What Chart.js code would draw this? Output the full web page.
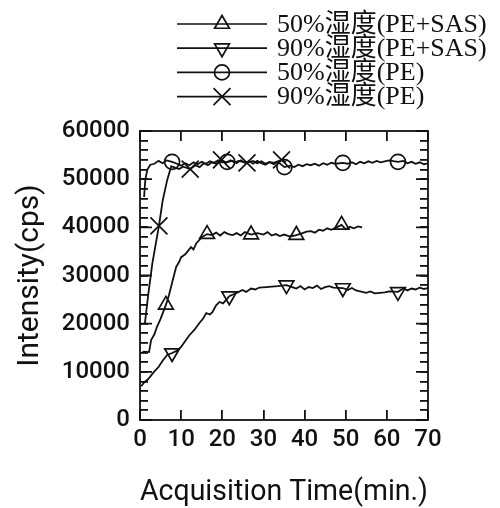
<!DOCTYPE html>
<html>
<head>
<meta charset="utf-8">
<script src="https://cdn.jsdelivr.net/npm/chart.js@4"></script>
<style>
  body { margin: 0; background: #fff; }
</style>
</head>
<body>
<canvas id="myChart" width="500" height="508"></canvas>
<script>
// 50%湿度(PE+SAS)
var tA = [0.5, 1, 2.2, 2.7, 3.5, 4.1, 5, 6.3, 7, 7.8, 8.8, 9.5, 10, 11, 12.4, 13, 13.7, 15.1, 16.3, 17.5, 18.5, 19.5, 20.5, 21.5, 22.5, 23.5, 24.5, 25.5, 27, 28.5, 30, 31, 32, 33, 34, 35, 36.5, 38, 39.5, 40.5, 41.5, 42.5, 43.5, 44.5, 45.5, 46.5, 47.5, 49, 50, 51, 52, 53, 54];
var yA = [14000, 14200, 14100, 16600, 17800, 19300, 21000, 23900, 25800, 28500, 31800, 32800, 33800, 34400, 35900, 35400, 36700, 38000, 38600, 38400, 38900, 38300, 39000, 38600, 38400, 38800, 38300, 39000, 38500, 38800, 38500, 39000, 38300, 38600, 38200, 38500, 38100, 38400, 38800, 39100, 39200, 38900, 39500, 39300, 39800, 39500, 39900, 40500, 39600, 40100, 39800, 40200, 40000];
var mA = [6.3, 16.3, 27, 38, 49];

// 90%湿度(PE+SAS)
var tB = [0.3, 1, 2, 3.4, 4.5, 5.5, 6.6, 7.8, 9, 10, 11, 12, 13.2, 14.4, 15.3, 16.1, 17, 17.6, 18.5, 19.3, 20.2, 21.7, 23, 24, 24.9, 25.8, 27, 28, 29, 30.7, 32, 33.5, 35.6, 37, 38, 39, 40, 41, 42, 43, 44, 45, 46, 47, 49.3, 50.5, 51.5, 52.5, 54, 55, 56, 57, 58.3, 59.5, 60.5, 62.7, 64, 65, 66, 67, 68, 69, 70];
var yB = [7000, 7800, 8500, 10000, 11000, 12300, 13500, 13900, 14400, 15200, 16400, 17600, 18700, 20100, 21000, 22200, 21900, 22400, 23800, 24500, 24200, 25700, 26200, 26600, 27000, 26600, 27300, 27100, 27500, 27600, 27700, 27800, 28000, 27600, 27300, 27800, 27100, 27600, 27400, 27900, 27200, 27600, 27800, 27500, 27400, 27000, 27400, 26900, 26600, 26400, 26700, 26300, 26400, 26500, 26700, 26600, 27300, 26900, 27300, 27100, 27500, 27200, 27400];
var mB = [7.8, 21.7, 35.6, 49.3, 62.7];

// 50%湿度(PE)
var tC = [1, 1.3, 1.8, 2.5, 3.5, 4.5, 5.5, 6.5, 7.8, 9, 10, 11, 12, 13, 14, 15, 16, 17, 18, 19, 20, 21.2, 22.5, 23.5, 24.5, 25.5, 26.5, 27.5, 28.5, 29.5, 30.5, 31.5, 32.5, 33.5, 35.1, 36.5, 37.5, 38.5, 39.5, 40.5, 41.5, 42.5, 43.5, 44.5, 45.5, 46.5, 47.5, 49.3, 50.5, 51.5, 52.5, 53.5, 54.5, 55.5, 56.5, 57.5, 58.5, 59.5, 60.5, 62.7, 64, 65, 66, 67, 68, 69, 70];
var yC = [46300, 50000, 52000, 53000, 53200, 53800, 53300, 53900, 53600, 53200, 52800, 53300, 52900, 53500, 53100, 53600, 53200, 53700, 53400, 53900, 53500, 53600, 53800, 53300, 53900, 53400, 53700, 53200, 53800, 53300, 53000, 53500, 53100, 53600, 52500, 52800, 52500, 53000, 52700, 53100, 52900, 53200, 52800, 53300, 53000, 53400, 53200, 53400, 53200, 53500, 53100, 53600, 53300, 53700, 53400, 53800, 53500, 53700, 53900, 53600, 53800, 53300, 53600, 53200, 53500, 53100, 53300];
var mC = [7.8, 21.2, 35.1, 49.3, 62.7];

// 90%湿度(PE)
var tD = [1.2, 2, 3, 4.6, 5.5, 6.6, 7.6, 8.5, 9.5, 10.5, 12.2, 13.5, 14.5, 15.5, 16.5, 17.5, 18.5, 19.8, 21, 22, 23, 24, 26, 27.5, 28.5, 29.5, 30.5, 31.5, 32.5, 34.4, 35.5];
var yD = [20100, 26000, 32500, 40300, 45500, 49800, 52700, 52400, 52100, 52600, 52100, 52900, 52500, 53300, 52900, 53500, 53200, 54000, 53400, 53900, 53500, 53800, 53400, 53800, 53300, 53700, 53200, 53600, 53400, 54000, 53500];
var mD = [4.6, 12.2, 19.8, 26, 34.4];

var labels = ['50%湿度(PE+SAS)', '90%湿度(PE+SAS)', '50%湿度(PE)', '90%湿度(PE)'];
var xStep = 10;       // labelled x ticks: 0..70
var yStep = 10000;    // labelled y ticks: 0..60000
var yMinorStep = 2000;

function pts(t, y) {
  return t.map(function (v, i) { return { x: v, y: y[i] }; });
}

var styles = [
  { pointStyle: 'triangle', rotation: 0, radius: 8.5, markers: mA },
  { pointStyle: 'triangle', rotation: 180, radius: 8.5, markers: mB },
  { pointStyle: 'circle', rotation: 0, radius: 7.5, markers: mC },
  { pointStyle: 'crossRot', rotation: 0, radius: 12, markers: mD }
];
var series = [pts(tA, yA), pts(tB, yB), pts(tC, yC), pts(tD, yD)];

var datasets = series.map(function (d, i) {
  var s = styles[i];
  return {
    label: labels[i],
    data: d,
    xAxisID: 'x',
    yAxisID: 'y',
    borderColor: '#111',
    borderWidth: 1.8,
    backgroundColor: 'rgba(0,0,0,0)',
    pointStyle: s.pointStyle,
    rotation: s.rotation,
    pointBorderWidth: 1.7,
    pointRadius: function (c) { return s.markers.indexOf(c.raw.x) >= 0 ? s.radius : 0; },
    tension: 0
  };
});

// inward tick marks drawn by the axes themselves (negative tick length)
function inwardGrid(len) {
  return { display: true, drawOnChartArea: false, drawTicks: true, tickLength: -len, tickColor: '#111', tickWidth: 1.8, color: '#111', lineWidth: 1.8 };
}

// frame plus longer marks at the labelled y values
var frame = {
  id: 'frame',
  afterDraw: function (chart) {
    var c = chart.ctx, a = chart.chartArea, ys = chart.scales.y;
    c.save();
    c.strokeStyle = '#111';
    c.lineWidth = 1.8;
    for (var v = ys.min; v <= ys.max; v += yStep) {
      var py = ys.getPixelForValue(v);
      c.beginPath();
      c.moveTo(a.left, py);
      c.lineTo(a.left + 12, py);
      c.moveTo(a.right, py);
      c.lineTo(a.right - 12, py);
      c.stroke();
    }
    c.strokeRect(a.left, a.top, a.right - a.left, a.bottom - a.top);
    c.restore();
  }
};

// line + marker legend in the top right
var lineLegend = {
  id: 'lineLegend',
  afterDraw: function (chart) {
    var c = chart.ctx;
    c.save();
    c.strokeStyle = '#111';
    c.font = '26px "Liberation Serif", "Noto Sans CJK SC", serif';
    c.textBaseline = 'middle';
    for (var i = 0; i < 4; i++) {
      var ly = 24 + i * 24.2;
      c.lineWidth = 1.7;
      c.beginPath();
      c.moveTo(177, ly);
      c.lineTo(267, ly);
      c.stroke();
      c.fillStyle = 'rgba(0,0,0,0)';
      Chart.helpers.drawPoint(c, {
        pointStyle: styles[i].pointStyle,
        rotation: styles[i].rotation,
        radius: styles[i].radius,
        borderWidth: 1.7
      }, 222, ly);
      c.fillStyle = '#111';
      c.fillText(labels[i], 277, ly + 1);
    }
    c.restore();
  }
};

var tickFont = { family: 'Roboto', size: 24, weight: '500' };
var titleFont = { family: 'Roboto', size: 30, lineHeight: 1 };

var ctx = document.getElementById('myChart').getContext('2d');
var myChart = new Chart(ctx, {
  type: 'line',
  data: { datasets: datasets },
  options: {
    responsive: false,
    animation: false,
    layout: { padding: { left: 0, top: 131, right: 72, bottom: 0 } },
    scales: {
      x: {
        type: 'linear',
        position: 'bottom',
        min: 0,
        max: 70,
        afterFit: function (s) { s.height = 88; },
        grid: inwardGrid(10),
        border: { display: false },
        ticks: { stepSize: xStep, color: '#111', padding: 16, maxRotation: 0, autoSkip: false, font: tickFont },
        title: { display: true, text: 'Acquisition Time(min.)', color: '#111', font: titleFont, padding: { top: 0, bottom: 1 } }
      },
      x2: {
        type: 'linear',
        axis: 'x',
        position: 'top',
        min: 0,
        max: 70,
        afterFit: function (s) { s.height = 0; },
        grid: inwardGrid(10),
        border: { display: false },
        ticks: { stepSize: xStep, display: false }
      },
      y: {
        type: 'linear',
        position: 'left',
        min: 0,
        max: 60000,
        afterFit: function (s) { s.width = 140; },
        grid: inwardGrid(8),
        border: { display: false },
        ticks: {
          stepSize: yMinorStep,
          color: '#111',
          padding: 18,
          autoSkip: false,
          font: tickFont,
          callback: function (v) { return v % yStep === 0 ? String(v) : ''; }
        },
        title: { display: true, text: 'Intensity(cps)', color: '#111', font: titleFont, padding: { top: 15, bottom: 0 } }
      },
      y2: {
        type: 'linear',
        axis: 'y',
        position: 'right',
        min: 0,
        max: 60000,
        afterFit: function (s) { s.width = 0; },
        grid: inwardGrid(8),
        border: { display: false },
        ticks: { stepSize: yMinorStep, display: false, autoSkip: false }
      }
    },
    plugins: {
      legend: { display: false },
      tooltip: { enabled: false }
    }
  },
  plugins: [frame, lineLegend]
});
</script>
</body>
</html>
